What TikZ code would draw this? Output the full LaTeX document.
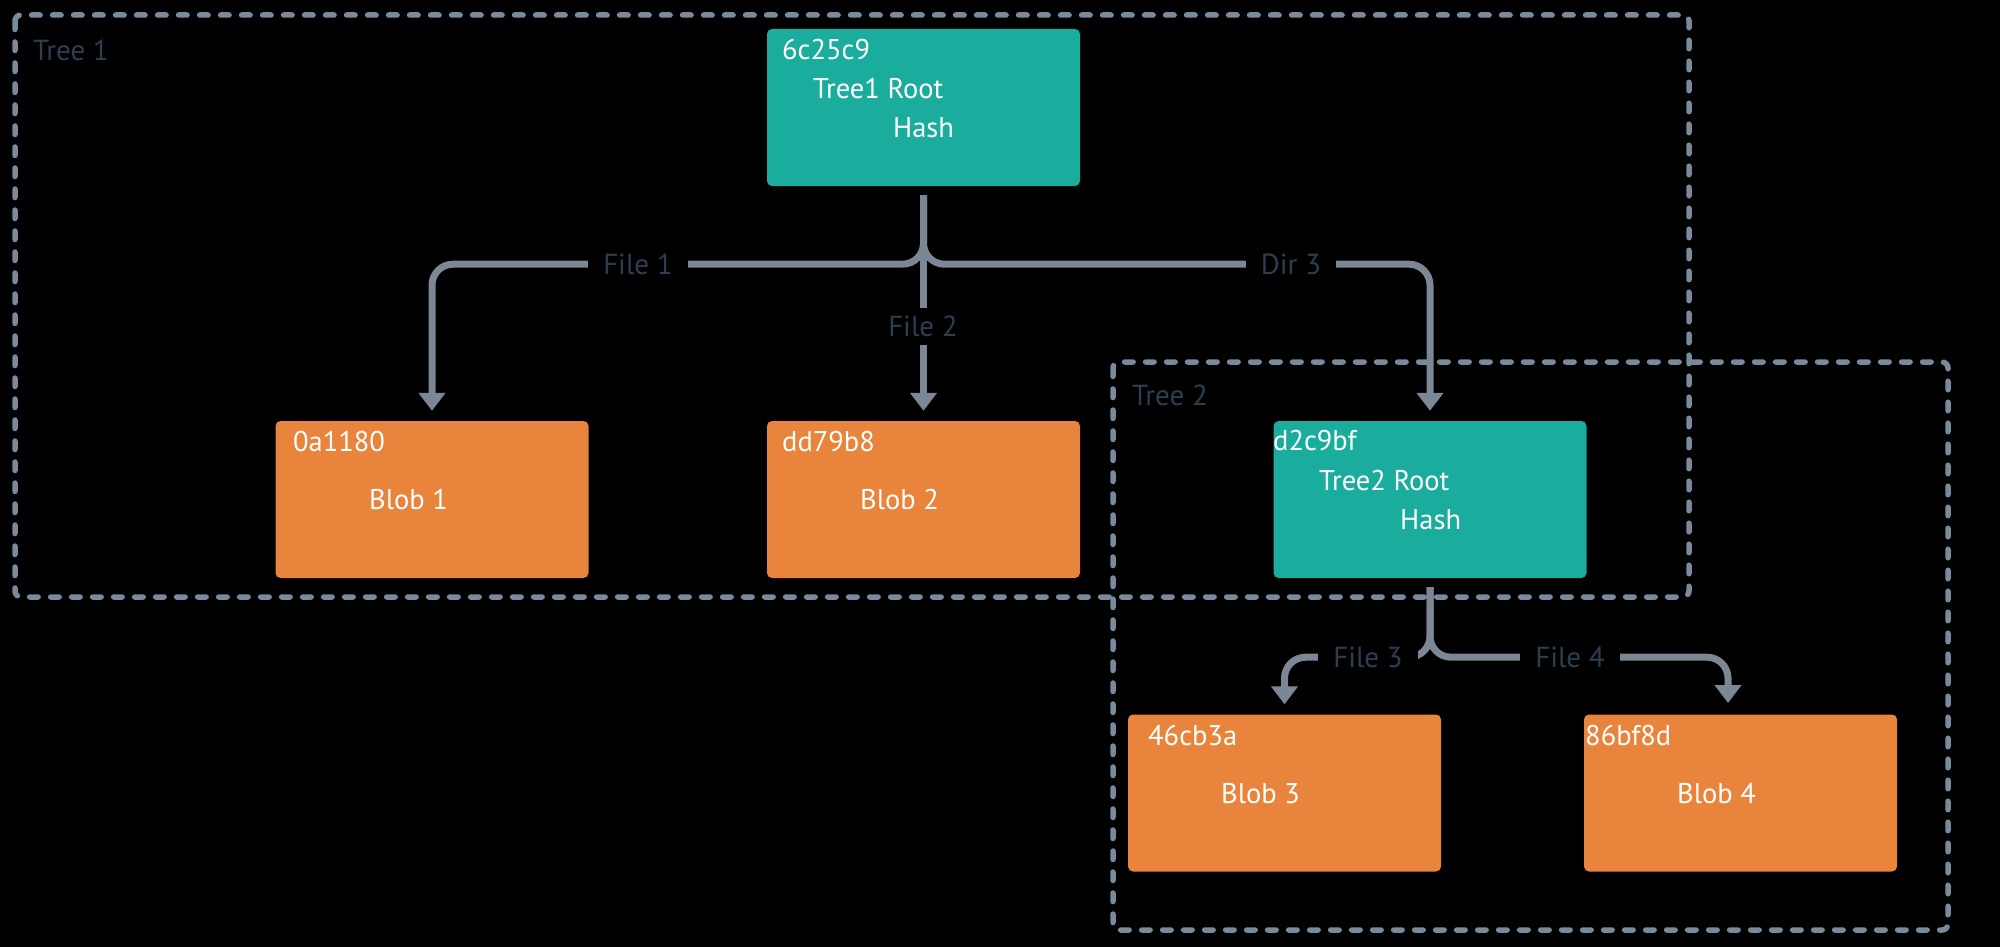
\documentclass[tikz,border=0pt]{standalone}
\usepackage{fontspec}
\setmainfont{PT Sans}
\usetikzlibrary{arrows.meta}

\definecolor{treeteal}{HTML}{1AAD9D}
\definecolor{blobor}{HTML}{E8843C}
\definecolor{conncol}{HTML}{7B8794}
\definecolor{dashcol}{HTML}{788A9C}
\definecolor{lblcol}{HTML}{2C3E50}

\begin{document}
\begin{tikzpicture}[x=1pt,y=-1pt,
  hashbox/.style={rectangle, rounded corners=5pt, minimum width=313pt, minimum height=157pt, inner sep=0pt},
  treebox/.style={hashbox, fill=treeteal},
  blobbox/.style={hashbox, fill=blobor},
  txt/.style={anchor=base west, text=white, font=\fontsize{28.5}{32}\selectfont, inner sep=0pt},
  grplbl/.style={anchor=base west, text=lblcol, font=\fontsize{29}{33}\selectfont, inner sep=0pt},
  lbl/.style={text=lblcol, font=\fontsize{29}{33}\selectfont, fill=black, inner xsep=15pt, inner ysep=8pt},
  grp/.style={draw=dashcol, line width=5.5pt, dash pattern=on 8.5pt off 12.5pt, line cap=round, rounded corners=6pt},
  conn/.style={draw=conncol, line width=7pt, rounded corners=21pt, shorten <=9pt, shorten >=10pt,
    -{Triangle[width=26pt,length=18pt]}},
]
\useasboundingbox (0,0) rectangle (2000,947);
\fill[black] (0,0) rectangle (2000,947);

% group outlines
\draw[grp] (15,15) rectangle (1689,597);
\draw[grp] (1113,362) rectangle (1948,930);
\node[grplbl] (t1l) at (33,61) {Tree 1};
\node[grplbl] (t2l) at (1132,405) {Tree 2};

% hash boxes
\node[treebox] (r1) at (923.5,107.5) {};
\node[blobbox] (b1) at (432,499.5) {};
\node[blobbox] (b2) at (923.5,499.5) {};
\node[treebox] (r2) at (1430,499.5) {};
\node[blobbox] (b3) at (1284.5,793) {};
\node[blobbox] (b4) at (1740.5,793) {};

% box texts
\node[txt] (r1id) at (782,60) {6c25c9};
\node[txt] (r1nm) at (813,99) {Tree1 Root};
\node[txt] (r1hs) at (893,138) {Hash};
\node[txt] (b1id) at (293,451) {0a1180};
\node[txt] (b1nm) at (369,509) {Blob 1};
\node[txt] (b2id) at (782,451) {dd79b8};
\node[txt] (b2nm) at (860,509) {Blob 2};
\node[txt] (r2id) at (1273,450) {d2c9bf};
\node[txt] (r2nm) at (1319,490) {Tree2 Root};
\node[txt] (r2hs) at (1400,529) {Hash};
\node[txt] (b3id) at (1148,745) {46cb3a};
\node[txt] (b3nm) at (1221,803) {Blob 3};
\node[txt] (b4id) at (1585,745) {86bf8d};
\node[txt] (b4nm) at (1677,803) {Blob 4};

% connectors
\coordinate (b4in) at (1728,713);
\draw[conn] (r1.south) -- ++(0,78) -| (b1.north);
\draw[conn] (r1.south) -- ++(0,78) -| (r2.north);
\draw[conn] (r1.south) -- (b2.north);
\draw[conn] (r2.south) -- ++(0,79) -| (b3.north);
\draw[conn] (r2.south) -- ++(0,79) -| (b4in);

% connector labels
\node[lbl] (f1) at (638,264) {File 1};
\node[lbl] (f2) at (923,326) {File 2};
\node[lbl] (d3) at (1291,264) {Dir 3};
\node[lbl] (f3) at (1368,657) {File 3};
\node[lbl] (f4) at (1570,657) {File 4};
\end{tikzpicture}
\end{document}
